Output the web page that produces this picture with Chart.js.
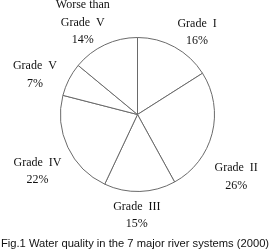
<!DOCTYPE html>
<html>
<head>
<meta charset="utf-8">
<script src="https://cdn.jsdelivr.net/npm/chart.js@4"></script>
<style>
  html, body { margin: 0; padding: 0; background: #fff; }
  #wrap { position: relative; width: 270px; height: 251px; }
  #caption {
    position: absolute; left: -20px; top: 237px; width: 310px;
    text-align: center; white-space: nowrap;
    font: 11.2px "Liberation Sans", Arial, sans-serif; color: #111;
  }
</style>
</head>
<body>
<div id="wrap">
  <canvas id="pie"></canvas>
  <div id="caption">Fig.1 Water quality in the 7 major river systems (2000)</div>
</div>
<script>
// --- data ---
const grades = ['Grade  I', 'Grade  II', 'Grade  III', 'Grade  IV', 'Grade  V', 'Worse than|Grade  V'];
const shares = [16, 26, 15, 22, 7, 14];

// label nudges (px) from the mid-angle anchor, to follow the original layout
const labelNudge = [[9, 10], [-3, 36], [-4, -4], [-5, 12], [-9, 8], [-10, 3]];
const LABEL_DIST = 105;
const LINE_H = 17.5;

// draws the outside labels next to each slice
const outsideLabels = {
  id: 'outsideLabels',
  afterDatasetsDraw(chart) {
    const ctx = chart.ctx;
    const arcs = chart.getDatasetMeta(0).data;
    ctx.save();
    ctx.fillStyle = '#111';
    ctx.font = '12px "Liberation Serif", "Times New Roman", serif';
    ctx.textAlign = 'center';
    ctx.textBaseline = 'middle';
    arcs.forEach((arc, i) => {
      const p = arc.getProps(['x', 'y', 'startAngle', 'endAngle'], true);
      const mid = (p.startAngle + p.endAngle) / 2;
      const ax = p.x + Math.cos(mid) * LABEL_DIST + labelNudge[i][0];
      const ay = p.y + Math.sin(mid) * LABEL_DIST + labelNudge[i][1];
      const lines = grades[i].split('|').concat(shares[i] + '%');
      const top = ay - (lines.length - 1) * LINE_H / 2;
      lines.forEach((t, k) => ctx.fillText(t, ax, top + k * LINE_H));
    });
    ctx.restore();
  }
};

new Chart(document.getElementById('pie'), {
  type: 'pie',
  data: {
    labels: grades.map(g => g.replace('|', ' ')),
    datasets: [{
      data: shares,
      backgroundColor: '#ffffff',
      borderColor: '#6a6a6a',
      borderWidth: 1
    }]
  },
  options: {
    responsive: true,
    maintainAspectRatio: false,
    animation: false,
    layout: { padding: { top: 37, bottom: 59, left: 20, right: 15 } },
    plugins: {
      legend: { display: false },
      tooltip: { enabled: false }
    }
  },
  plugins: [outsideLabels]
});
</script>
</body>
</html>
